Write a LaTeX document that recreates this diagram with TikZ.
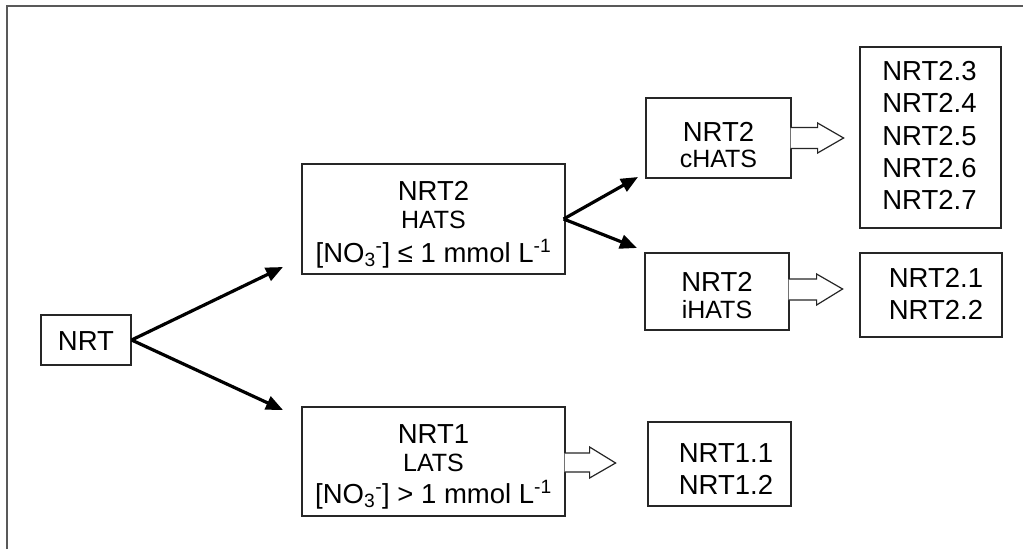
\documentclass[tikz,border=0pt]{standalone}
\usepackage{fontspec}
\setmainfont{Liberation Sans}
\usetikzlibrary{arrows.meta,calc}
\begin{document}
\begin{tikzpicture}[x=1pt,y=-1pt,
  box/.style={draw=black!85, line width=1.2pt, inner sep=0pt},
  big/.style={font=\fontsize{27.5}{32}\selectfont, anchor=base, inner sep=0pt},
  small/.style={font=\fontsize{25}{29}\selectfont, anchor=base, inner sep=0pt},
  conn/.style={line width=3.2pt, -{Triangle[length=17pt,width=14pt]}},
  hollow/.style={draw=black!85, line width=1.2pt, fill=white}]
\useasboundingbox (0,0) rectangle (1023,549);
\draw[black!65, line width=1.3pt] (7,549) -- (7,6) -- (1023,6);

% boxes
\node[box, minimum width=90pt,  minimum height=50pt]  (nrt)   at (86,340) {};
\node[box, minimum width=263pt, minimum height=110pt] (hats)  at (433.5,219) {};
\node[box, minimum width=145pt, minimum height=80pt]  (chats) at (718.5,138) {};
\node[box, minimum width=144pt, minimum height=77pt]  (ihats) at (717,291.5) {};
\node[box, minimum width=263pt, minimum height=109pt] (lats)  at (433.5,461.5) {};
\node[box, minimum width=141pt, minimum height=181pt] (list)  at (930.5,137.5) {};
\node[box, minimum width=142pt, minimum height=84pt]  (ltwo)  at (931,295) {};
\node[box, minimum width=143pt, minimum height=84pt]  (lone)  at (719.5,464) {};

% texts
\node[big] (tnrt) at (86,350) {NRT};
\node[big]   (hatsA) at (433.5,200) {NRT2};
\node[small] (hatsB) at (433.5,228) {HATS};
\node[big]   (hatsC) at (433.5,262) {[NO\textsubscript{3}\textsuperscript{-}] ≤ 1 mmol L\textsuperscript{-1}};
\node[big]   (chatsA) at (718.5,141) {NRT2};
\node[small] (chatsB) at (718.5,167) {cHATS};
\node[big]   (ihatsA) at (717,291) {NRT2};
\node[small] (ihatsB) at (717,318) {iHATS};
\node[big]   (latsA) at (433.5,443) {NRT1};
\node[small] (latsB) at (433.5,471) {LATS};
\node[big]   (latsC) at (433.5,503) {[NO\textsubscript{3}\textsuperscript{-}] > 1 mmol L\textsuperscript{-1}};
\node[big, align=center, anchor=north, font=\fontsize{27.5}{32.3}\selectfont] (listT) at (929.5,61) {NRT2.3\\NRT2.4\\NRT2.5\\NRT2.6\\NRT2.7};
\node[big, align=center, anchor=north, font=\fontsize{27.5}{32}\selectfont] (ltwoT) at (936,268) {NRT2.1\\NRT2.2};
\node[big, align=center, anchor=north, font=\fontsize{27.5}{32}\selectfont] (loneT) at (726,443) {NRT1.1\\NRT1.2};

% thick connectors
\coordinate (t1) at (283,267);
\coordinate (t2) at (283,410);
\coordinate (t3) at (638,177);
\coordinate (t4) at (637,248);
\draw[conn] (nrt.east) -- (t1);
\draw[conn] (nrt.east) -- (t2);
\draw[conn] ([xshift=-2pt]hats.east) -- (t3);
\draw[conn] ([xshift=-2pt]hats.east) -- (t4);

% hollow block arrows
\path[hollow] ($(chats.east)+(-1,-10.5)$) -- ++(27,0) -- ++(0,-4.5) -- ($(chats.east)+(52,0)$)
  -- ($(chats.east)+(26,15)$) -- ++(0,-4.5) -- ($(chats.east)+(-1,10.5)$);
\path[hollow] ($(ihats.east)+(-1,-12.5)$) -- ++(28,0) -- ++(0,-5) -- ($(ihats.east)+(53,-2.5)$)
  -- ($(ihats.east)+(27,13.5)$) -- ++(0,-5) -- ($(ihats.east)+(-1,8.5)$);
\path[hollow] ($(lats.east)+(-1,-8.5)$) -- ++(25,0) -- ++(0,-6) -- ($(lats.east)+(50,1.5)$)
  -- ($(lats.east)+(24,16.5)$) -- ++(0,-6) -- ($(lats.east)+(-1,10.5)$);
\end{tikzpicture}
\end{document}
